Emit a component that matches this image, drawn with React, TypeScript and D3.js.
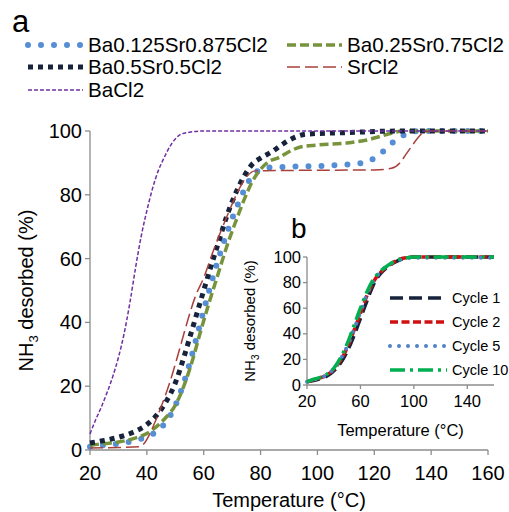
import React from "react";
import * as d3 from "d3";

// panel a: temperature (°C) / NH3 desorbed (%) for each salt
const baCl2Temp = [20, 22, 24, 26, 28, 30, 32, 34, 36, 38, 40, 42, 44, 46, 48, 50, 52, 55, 60, 160];
const baCl2Pct = [5, 9.5, 13.5, 18, 23, 29, 36.5, 46, 57, 67, 75, 82, 87.5, 91.5, 95, 97.5, 99, 99.6, 100, 100];

const ba125Temp = [20, 25, 30, 35, 40, 43, 46, 49, 52, 55, 58, 61, 64, 67, 70, 73, 76, 79, 82, 90, 100, 110, 116, 120, 123, 126, 129, 132, 136, 160];
const ba125Pct = [1, 1.5, 2, 2.8, 4.2, 5.5, 8, 12, 18.5, 27, 37, 47, 56.5, 65, 72.5, 79, 84.5, 87.5, 88.5, 88.8, 89, 89.5, 90, 91.5, 93.5, 96, 98, 99.3, 100, 100];

const ba25Temp = [20, 25, 30, 35, 40, 44, 47, 50, 53, 56, 59, 62, 65, 68, 71, 74, 77, 80, 83, 86, 90, 94, 100, 110, 118, 122, 126, 130, 160];
const ba25Pct = [1.5, 2, 2.5, 3.5, 5.2, 7.8, 10.5, 14, 20, 28, 37.5, 46.5, 55, 63.5, 71, 78, 84, 88, 90.5, 91.5, 93.5, 95, 95.6, 96.2, 97.3, 98.3, 99.3, 100, 100];

const ba5Temp = [20, 25, 30, 35, 40, 44, 47, 50, 53, 56, 59, 62, 65, 68, 71, 74, 77, 80, 84, 88, 92, 96, 110, 130, 160];
const ba5Pct = [2.2, 3, 4, 5.5, 8, 11.5, 15.5, 21, 29, 38, 47, 56, 64.5, 73, 80, 85.5, 89.5, 91.5, 93.5, 96, 98, 99, 99.5, 100, 100];

const srCl2Temp = [20, 30, 37, 39, 41, 43, 45, 48, 51, 54, 57, 60, 63, 66, 69, 72, 75, 78, 85, 100, 120, 126, 129, 131, 133, 135, 137, 140, 160];
const srCl2Pct = [0.6, 0.8, 1, 2, 5, 9, 13.5, 21, 30, 39.5, 48, 54, 61.5, 68.5, 75, 81, 85.5, 87.5, 87.6, 87.7, 87.8, 88.3, 90, 92.5, 95, 97.5, 99.3, 100, 100];

// panel b: cycling
const cycleTemp = [20, 25, 30, 35, 40, 45, 50, 55, 60, 65, 70, 75, 80, 85, 90, 95, 100, 120, 160];
const cycle1Pct = [2.5, 3.5, 5, 7, 11, 17, 26, 38, 52, 66, 79, 87, 92, 95.5, 98, 99.5, 100, 100, 100];
const cycle2Pct = [2.5, 4, 5.5, 8, 12, 19, 29, 42, 56, 70, 81, 88, 92.5, 96, 98.5, 99.5, 100, 100, 100];
const cycle5Pct = [2.5, 4, 5.5, 8, 12.5, 20, 30, 43, 57, 71, 81.5, 88.5, 93, 96, 98, 99, 99.3, 99.5, 99.5];
const cycle10Pct = [2.5, 4.5, 6, 8.5, 13, 21, 32, 46, 60, 73, 83, 89, 93, 96.5, 98.5, 99.5, 100, 100, 100];

const mainXTicks = [20, 40, 60, 80, 100, 120, 140, 160];
const mainYTicks = [0, 20, 40, 60, 80, 100];
const insetXTicks = [20, 60, 100, 140];
const insetYTicks = [0, 20, 40, 60, 80, 100];

const font = "'Liberation Sans', Arial, sans-serif";
const axisColor = "#8c8c8c";

const mainSeries = [
  { name: "Ba0.125Sr0.875Cl2", t: ba125Temp, v: ba125Pct, color: "#558ED5", width: 6, dash: "0 13", cap: "round" },
  { name: "Ba0.25Sr0.75Cl2", t: ba25Temp, v: ba25Pct, color: "#77933C", width: 3.5, dash: "9 4", cap: "butt" },
  { name: "Ba0.5Sr0.5Cl2", t: ba5Temp, v: ba5Pct, color: "#16233B", width: 5, dash: "5 5", cap: "butt" },
  { name: "SrCl2", t: srCl2Temp, v: srCl2Pct, color: "#A8403C", width: 1.5, dash: "13 5", cap: "butt" },
  { name: "BaCl2", t: baCl2Temp, v: baCl2Pct, color: "#7030A0", width: 1.5, dash: "4 2", cap: "butt" },
];

const insetSeries = [
  { name: "Cycle 1", v: cycle1Pct, color: "#16233B", width: 3.5, dash: "13 6", cap: "butt" },
  { name: "Cycle 2", v: cycle2Pct, color: "#D01010", width: 3.5, dash: "8 3.5", cap: "butt" },
  { name: "Cycle 5", v: cycle5Pct, color: "#4F81C8", width: 4, dash: "0 9", cap: "round" },
  { name: "Cycle 10", v: cycle10Pct, color: "#00B050", width: 3.5, dash: "15 5 3 5", cap: "butt" },
];

// legend slots for panel a (column x of the line, row y)
const mainLegendPos = [
  [28, 45], [287, 45], [28, 67], [287, 67], [28, 90],
];

export default function App() {
  const x = d3.scaleLinear().domain([20, 160]).range([90, 488]);
  const y = d3.scaleLinear().domain([0, 100]).range([450, 131]);
  const xi = d3.scaleLinear().domain([20, 160]).range([307, 494]);
  const yi = d3.scaleLinear().domain([0, 100]).range([385, 257]);

  const mainLine = d3
    .line<[number, number]>()
    .x((d) => x(d[0]))
    .y((d) => y(d[1]))
    .curve(d3.curveMonotoneX);
  const insetLine = d3
    .line<[number, number]>()
    .x((d) => xi(d[0]))
    .y((d) => yi(d[1]))
    .curve(d3.curveMonotoneX);

  return (
    <svg
      width={509}
      height={512}
      style={{ position: "absolute", left: 0, top: 0, background: "#fff" }}
      fontFamily={font}
    >
      <rect width={509} height={512} fill="#fff" />
      <text x={12} y={32} fontSize={31}>a</text>

      {/* legend a */}
      {mainSeries.map((s, i) => (
        <g key={s.name}>
          <line
            x1={mainLegendPos[i][0]}
            x2={mainLegendPos[i][0] + 55}
            y1={mainLegendPos[i][1]}
            y2={mainLegendPos[i][1]}
            stroke={s.color}
            strokeWidth={s.width}
            strokeDasharray={s.dash}
            strokeLinecap={s.cap as any}
          />
          <text x={mainLegendPos[i][0] + 60} y={mainLegendPos[i][1] + 7} fontSize={20.6}>
            {s.name}
          </text>
        </g>
      ))}

      {/* main axes */}
      <line x1={x(20)} x2={x(20)} y1={y(100)} y2={y(0)} stroke={axisColor} strokeWidth={1.3} />
      <line x1={x(20)} x2={x(160)} y1={y(0)} y2={y(0)} stroke={axisColor} strokeWidth={1.3} />
      {mainYTicks.map((t) => (
        <g key={"my" + t}>
          <line x1={x(20) - 5} x2={x(20)} y1={y(t)} y2={y(t)} stroke={axisColor} strokeWidth={1.3} />
          <text x={x(20) - 8} y={y(t) + 7} fontSize={20} textAnchor="end">{t}</text>
        </g>
      ))}
      {mainXTicks.map((t) => (
        <g key={"mx" + t}>
          <line x1={x(t)} x2={x(t)} y1={y(0)} y2={y(0) + 5} stroke={axisColor} strokeWidth={1.3} />
          <text x={x(t)} y={480} fontSize={20} textAnchor="middle">{t}</text>
        </g>
      ))}
      <text x={(x(20) + x(160)) / 2} y={507} fontSize={20} textAnchor="middle">
        Temperature (°C)
      </text>
      <text transform={`translate(33,${(y(0) + y(100)) / 2}) rotate(-90)`} fontSize={20} textAnchor="middle">
        NH<tspan fontSize={13} dy={5}>3</tspan><tspan dy={-5}> desorbed (%)</tspan>
      </text>

      {/* main curves */}
      {mainSeries.map((s) => (
        <path
          key={"p" + s.name}
          d={mainLine(s.t.map((t, i) => [t, s.v[i]] as [number, number])) || ""}
          fill="none"
          stroke={s.color}
          strokeWidth={s.width}
          strokeDasharray={s.dash}
          strokeLinecap={s.cap as any}
        />
      ))}

      {/* inset b */}
      <text x={291} y={238} fontSize={28}>b</text>
      <line x1={xi(20)} x2={xi(20)} y1={yi(100)} y2={yi(0)} stroke={axisColor} strokeWidth={1.3} />
      <line x1={xi(20)} x2={xi(160)} y1={yi(0)} y2={yi(0)} stroke={axisColor} strokeWidth={1.3} />
      {insetYTicks.map((t) => (
        <g key={"iy" + t}>
          <line x1={xi(20) - 4} x2={xi(20)} y1={yi(t)} y2={yi(t)} stroke={axisColor} strokeWidth={1.3} />
          <text x={xi(20) - 6} y={yi(t) + 5.5} fontSize={16.5} textAnchor="end">{t}</text>
        </g>
      ))}
      {insetXTicks.map((t) => (
        <g key={"ix" + t}>
          <line x1={xi(t)} x2={xi(t)} y1={yi(0)} y2={yi(0) + 4} stroke={axisColor} strokeWidth={1.3} />
          <text x={xi(t)} y={yi(0) + 22} fontSize={16.5} textAnchor="middle">{t}</text>
        </g>
      ))}
      <text x={(xi(20) + xi(160)) / 2} y={436} fontSize={16.5} textAnchor="middle">
        Temperature (°C)
      </text>
      <text transform={`translate(255,${(yi(0) + yi(100)) / 2}) rotate(-90)`} fontSize={15} textAnchor="middle">
        NH<tspan fontSize={10} dy={4}>3</tspan><tspan dy={-4}> desorbed (%)</tspan>
      </text>
      {insetSeries.map((s) => (
        <path
          key={"ip" + s.name}
          d={insetLine(cycleTemp.map((t, i) => [t, s.v[i]] as [number, number])) || ""}
          fill="none"
          stroke={s.color}
          strokeWidth={s.width}
          strokeDasharray={s.dash}
          strokeLinecap={s.cap as any}
        />
      ))}
      {insetSeries.map((s, i) => (
        <g key={"il" + s.name}>
          <line
            x1={390}
            x2={447}
            y1={298 + i * 24}
            y2={298 + i * 24}
            stroke={s.color}
            strokeWidth={s.width}
            strokeDasharray={s.dash}
            strokeLinecap={s.cap as any}
          />
          <text x={452} y={298 + i * 24 + 5} fontSize={14.5}>{s.name}</text>
        </g>
      ))}
    </svg>
  );
}
